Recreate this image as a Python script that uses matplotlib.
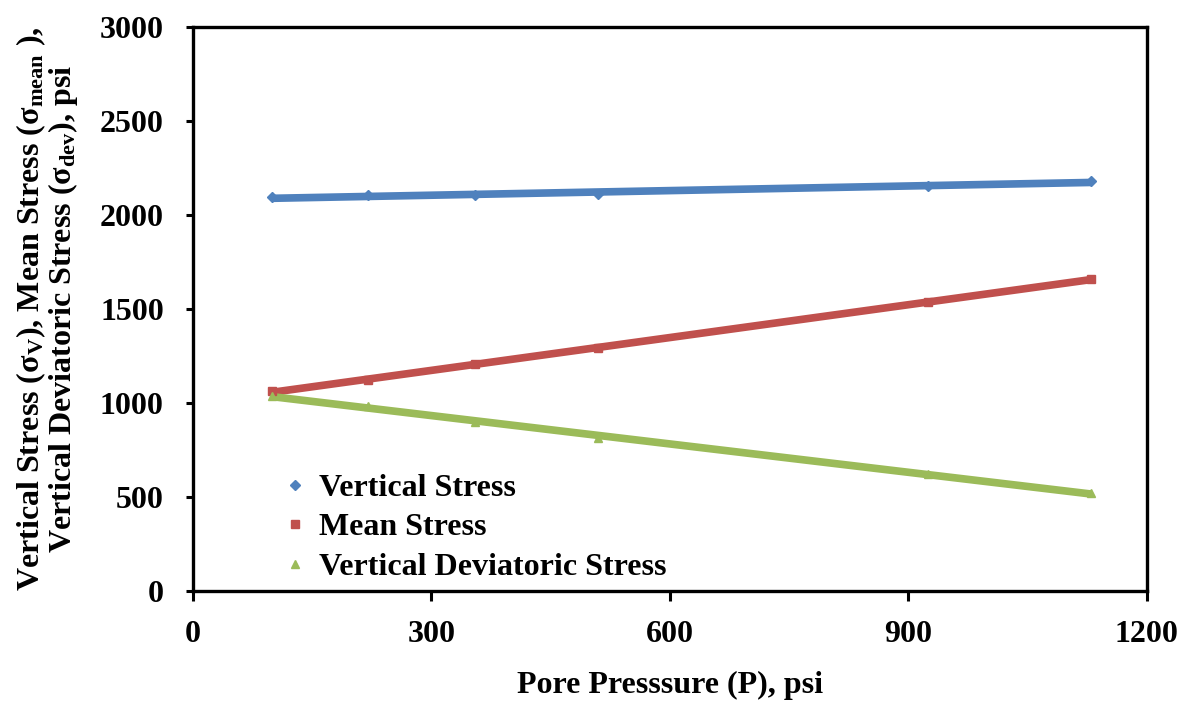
import numpy as np
import matplotlib.pyplot as plt

# pore pressure, psi
pore_pressure = [100, 220, 355, 510, 925, 1130]

# stresses, psi
vertical_stress = [2095, 2105, 2105, 2110, 2155, 2180]
mean_stress = [1065, 1120, 1205, 1295, 1535, 1660]
deviatoric_stress = [1035, 985, 900, 815, 620, 520]

series = [
    ("Vertical Stress", vertical_stress, "#4F81BD", "D", 5),
    ("Mean Stress", mean_stress, "#C0504D", "s", 6),
    ("Vertical Deviatoric Stress", deviatoric_stress, "#9BBB59", "^", 6),
]

plt.rcParams["font.family"] = ["Liberation Serif", "DejaVu Serif"]
plt.rcParams["font.weight"] = "bold"
plt.rcParams["mathtext.fontset"] = "custom"
plt.rcParams["mathtext.rm"] = "Liberation Serif:bold"
plt.rcParams["mathtext.it"] = "Liberation Serif:bold"
plt.rcParams["mathtext.bf"] = "Liberation Serif:bold"

fig = plt.figure(figsize=(11.86, 7.04), dpi=100)
ax = fig.add_axes([0.1627, 0.1605, 0.8043, 0.8011])

x = np.array(pore_pressure, dtype=float)
for label, values, color, marker, size in series:
    y = np.array(values, dtype=float)
    # linear trendline through the points
    slope, intercept = np.polyfit(x, y, 1)
    ax.plot(x[[0, -1]], slope * x[[0, -1]] + intercept, color=color,
            lw=5.5, solid_capstyle="butt", zorder=2)
    ax.plot(x, y, linestyle="none", marker=marker, ms=size, color=color,
            label=label, zorder=3)

ax.set_xlim(0, 1200)
ax.set_ylim(0, 3000)
ax.set_xticks([0, 300, 600, 900, 1200])
ax.set_yticks(range(0, 3001, 500))

for side in ax.spines.values():
    side.set_linewidth(2.4)
ax.tick_params(axis="both", direction="out", width=2.2, labelsize=23)
ax.tick_params(axis="x", length=7, pad=14)
ax.tick_params(axis="y", length=5, pad=16)
for lbl in ax.get_xticklabels() + ax.get_yticklabels():
    lbl.set_fontweight("bold")

ax.set_xlabel("Pore Presssure (P), psi", fontsize=23, fontweight="bold",
              labelpad=16)
ax.set_ylabel("Vertical Stress (σ$_\\mathrm{V}$), Mean Stress (σ$_\\mathrm{mean}$ ),\n"
              "Vertical Deviatoric Stress (σ$_\\mathrm{dev}$), psi",
              fontsize=23, fontweight="bold", labelpad=14, linespacing=0.95)

ax.legend(loc="lower left", bbox_to_anchor=(0.068, -0.035), frameon=False,
          prop={"size": 23, "weight": "bold"}, handlelength=0.5,
          handletextpad=0.5, labelspacing=0.32, markerscale=1.0)

fig.savefig("out.png", dpi=100)
